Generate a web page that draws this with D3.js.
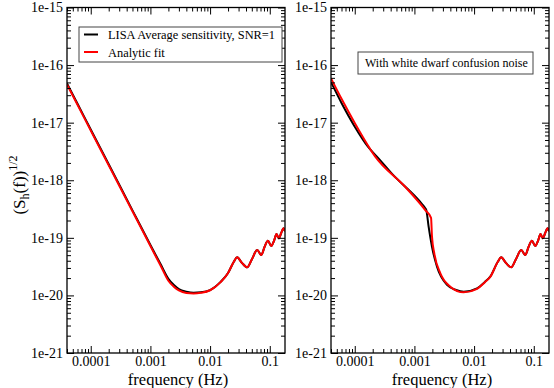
<!DOCTYPE html>
<html>
<head>
<meta charset="utf-8">
<script src="https://cdn.jsdelivr.net/npm/d3@7"></script>
<style>
body { margin: 0; background: #fff; }
text { font-family: "Liberation Serif", "Times New Roman", serif; fill: #000; }
</style>
</head>
<body>
<div id="chart"></div>
<script>
var svgWidth = 554;
var svgHeight = 388;

// ticks and labels
var xTickValues = [1e-4, 1e-3, 1e-2, 1e-1];
var xTickLabels = ['0.0001', '0.001', '0.01', '0.1'];
var yTickValues = [1e-21, 1e-20, 1e-19, 1e-18, 1e-17, 1e-16, 1e-15];
var yTickLabels = ['1e-21', '1e-20', '1e-19', '1e-18', '1e-17', '1e-16', '1e-15'];
var xDomain = [4e-5, 0.18];
var yDomain = [1e-21, 1e-15];
var legendLabels = ['LISA Average sensitivity, SNR=1', 'Analytic fit'];
var noteText = 'With white dwarf confusion noise';

// left panel: LISA sensitivity and analytic fit
var freqLisa = [4e-5, 6e-5, 1e-4, 2e-4, 5e-4, 1e-3, 1.5e-3, 2e-3, 2.5e-3, 3e-3, 4e-3, 5.3e-3, 7e-3, 1e-2, 1.5e-2, 2e-2, 2.5e-2,
    2.84e-2, 3.4e-2, 4.19e-2, 5e-2, 6.16e-2, 7.2e-2, 8.2e-2, 9.3e-2, 0.106, 0.118, 0.13, 0.142, 0.155, 0.169, 0.18];
var hLisa = [4.8e-17, 2.13e-17, 7.6e-18, 1.9e-18, 3.0e-19, 7.5e-20, 3.4e-20, 1.95e-20, 1.5e-20, 1.29e-20, 1.16e-20, 1.11e-20, 1.13e-20, 1.24e-20, 1.72e-20, 2.45e-20, 3.85e-20,
    4.58e-20, 3.7e-20, 3.07e-20, 4.2e-20, 6.14e-20, 5.03e-20, 7.0e-20, 8.9e-20, 7.2e-20, 8.9e-20, 1.16e-19, 9.8e-20, 1.2e-19, 1.46e-19, 1.3e-19];
var freqFit = [4e-5, 6e-5, 1e-4, 2e-4, 5e-4, 1e-3, 1.5e-3, 2e-3, 2.5e-3, 3e-3, 4e-3, 5.3e-3, 7e-3, 1e-2, 1.5e-2, 2e-2, 2.5e-2,
    2.84e-2, 3.4e-2, 4.19e-2, 5e-2, 6.16e-2, 7.2e-2, 8.2e-2, 9.3e-2, 0.106, 0.118, 0.13, 0.142, 0.155, 0.169, 0.18];
var hFit = [4.6e-17, 2.05e-17, 7.3e-18, 1.82e-18, 2.9e-19, 7.2e-20, 3.2e-20, 1.8e-20, 1.4e-20, 1.22e-20, 1.1e-20, 1.08e-20, 1.11e-20, 1.23e-20, 1.7e-20, 2.45e-20, 3.85e-20,
    4.58e-20, 3.7e-20, 3.07e-20, 4.2e-20, 6.14e-20, 5.03e-20, 7.0e-20, 8.9e-20, 7.2e-20, 8.9e-20, 1.16e-19, 9.8e-20, 1.2e-19, 1.46e-19, 1.3e-19];

// right panel: with white dwarf confusion noise
var freqLisaWd = [4e-5, 6e-5, 9.9e-5, 1.69e-4, 2.5e-4, 4.19e-4, 1.34e-3, 1.52e-3, 1.58e-3, 1.73e-3, 1.97e-3, 2.39e-3, 3.52e-3, 5e-3, 6.7e-3, 1.12e-2, 1.5e-2, 1.88e-2, 2.5e-2,
    2.84e-2, 3.4e-2, 4.19e-2, 5e-2, 6.16e-2, 7.2e-2, 8.2e-2, 9.3e-2, 0.106, 0.118, 0.13, 0.142, 0.155, 0.169, 0.18];
var hLisaWd = [5.07e-17, 2.2e-17, 8.7e-18, 3.75e-18, 2.4e-18, 1.3e-18, 3.86e-19, 3.25e-19, 3.04e-19, 1.56e-19, 7.0e-20, 3.15e-20, 1.52e-20, 1.24e-20, 1.16e-20, 1.33e-20, 1.7e-20, 2.15e-20, 3.85e-20,
    4.58e-20, 3.7e-20, 3.07e-20, 4.2e-20, 6.14e-20, 5.03e-20, 7.0e-20, 8.9e-20, 7.2e-20, 8.9e-20, 1.16e-19, 9.8e-20, 1.2e-19, 1.46e-19, 1.3e-19];
var freqFitWd = [4e-5, 6e-5, 1.01e-4, 2.19e-4, 7e-4, 1.52e-3, 1.9e-3, 1.97e-3, 2.15e-3, 2.72e-3, 4e-3, 6.7e-3, 1.12e-2, 1.5e-2, 1.88e-2, 2.5e-2,
    2.84e-2, 3.4e-2, 4.19e-2, 5e-2, 6.16e-2, 7.2e-2, 8.2e-2, 9.3e-2, 0.106, 0.118, 0.13, 0.142, 0.155, 0.169, 0.18];
var hFitWd = [5.9e-17, 2.6e-17, 9.7e-18, 2.6e-18, 7.7e-19, 3.04e-19, 2.23e-19, 1.05e-19, 5.4e-20, 2.42e-20, 1.42e-20, 1.13e-20, 1.3e-20, 1.68e-20, 2.12e-20, 3.85e-20,
    4.58e-20, 3.7e-20, 3.07e-20, 4.2e-20, 6.14e-20, 5.03e-20, 7.0e-20, 8.9e-20, 7.2e-20, 8.9e-20, 1.16e-19, 9.8e-20, 1.2e-19, 1.46e-19, 1.3e-19];

var plotTop = 7.5;
var plotBottom = 353;

var svg = d3.select('#chart').append('svg')
    .attr('width', svgWidth)
    .attr('height', svgHeight);

function pairs(fs, hs) {
    return fs.map(function(f, i) { return {f: f, h: hs[i]}; });
}

function drawPanel(id, left, right, black, red) {
    var x = d3.scaleLog().domain(xDomain).range([left, right]);
    var y = d3.scaleLog().domain(yDomain).range([plotBottom, plotTop]);
    var g = svg.append('g');

    g.append('clipPath').attr('id', 'clip' + id)
        .append('rect')
        .attr('x', left).attr('y', plotTop)
        .attr('width', right - left).attr('height', plotBottom - plotTop);

    var line = d3.line()
        .x(d => x(d.f))
        .y(d => y(d.h))
        .curve(d3.curveMonotoneX);

    var curves = g.append('g').attr('clip-path', 'url(#clip' + id + ')');
    curves.append('path').datum(black)
        .attr('d', line).attr('fill', 'none')
        .attr('stroke', '#000').attr('stroke-width', 2);
    curves.append('path').datum(red)
        .attr('d', line).attr('fill', 'none')
        .attr('stroke', '#ff0000').attr('stroke-width', 2);

    var xMinor = x.ticks().filter(v => xTickValues.indexOf(v) < 0);
    var yMinor = y.ticks().filter(v => yTickValues.indexOf(v) < 0);

    function axisGroup(axis, tx, ty, keepText) {
        var a = g.append('g')
            .attr('transform', 'translate(' + tx + ',' + ty + ')')
            .call(axis);
        a.select('.domain').remove();
        a.selectAll('line').attr('stroke-width', 1);
        if (!keepText) a.selectAll('text').remove();
        return a;
    }

    // bottom
    var xb = axisGroup(d3.axisBottom(x).tickValues(xTickValues).tickSize(-7).tickPadding(3)
        .tickFormat((d, i) => xTickLabels[i]), 0, plotBottom, true);
    xb.selectAll('text').attr('font-size', 14).style('font-family', '"Liberation Serif", serif');
    axisGroup(d3.axisBottom(x).tickValues(xMinor).tickSize(-4), 0, plotBottom);
    // top
    axisGroup(d3.axisTop(x).tickValues(xTickValues).tickSize(-7), 0, plotTop);
    axisGroup(d3.axisTop(x).tickValues(xMinor).tickSize(-4), 0, plotTop);
    // left
    var yl = axisGroup(d3.axisLeft(y).tickValues(yTickValues).tickSize(-7).tickPadding(4)
        .tickFormat((d, i) => yTickLabels[i]), left, 0, true);
    yl.selectAll('text').attr('font-size', 14).style('font-family', '"Liberation Serif", serif');
    axisGroup(d3.axisLeft(y).tickValues(yMinor).tickSize(-4), left, 0);
    // right
    axisGroup(d3.axisRight(y).tickValues(yTickValues).tickSize(-7), right, 0);
    axisGroup(d3.axisRight(y).tickValues(yMinor).tickSize(-4), right, 0);

    g.append('rect')
        .attr('x', left).attr('y', plotTop)
        .attr('width', right - left).attr('height', plotBottom - plotTop)
        .attr('fill', 'none').attr('stroke', '#000').attr('stroke-width', 1.3);

    g.append('text')
        .attr('x', (left + right) / 2 + 2)
        .attr('y', 385)
        .attr('text-anchor', 'middle')
        .attr('font-size', 16.5)
        .text('frequency (Hz)');

    return g;
}

var leftPanel = drawPanel('L', 67, 285, pairs(freqLisa, hLisa), pairs(freqFit, hFit));
var rightPanel = drawPanel('R', 331, 549, pairs(freqLisaWd, hLisaWd), pairs(freqFitWd, hFitWd));

// legend in left panel
var legend = svg.append('g');
legend.append('rect')
    .attr('x', 79).attr('y', 27)
    .attr('width', 203).attr('height', 35)
    .attr('fill', '#fff').attr('stroke', '#444').attr('stroke-width', 1);
var legendColors = ['#000', '#ff0000'];
legendLabels.forEach(function(label, i) {
    var ly = 34.5 + i * 17.5;
    legend.append('line')
        .attr('x1', 84).attr('x2', 98)
        .attr('y1', ly).attr('y2', ly)
        .attr('stroke', legendColors[i]).attr('stroke-width', 2);
    legend.append('text')
        .attr('x', 108).attr('y', ly + 4.8)
        .attr('font-size', 12.4)
        .text(label);
});

// note in right panel
svg.append('rect')
    .attr('x', 358).attr('y', 52)
    .attr('width', 175).attr('height', 22)
    .attr('fill', '#fff').attr('stroke', '#444').attr('stroke-width', 1);
svg.append('text')
    .attr('x', 365).attr('y', 67)
    .attr('font-size', 12)
    .text(noteText);

// y label
var yLabel = svg.append('text')
    .attr('transform', 'translate(25,185) rotate(-90)')
    .attr('text-anchor', 'middle')
    .attr('font-size', 17);
yLabel.append('tspan').text('(S');
yLabel.append('tspan').attr('font-size', 12).attr('dy', 4).text('h');
yLabel.append('tspan').attr('dy', -4).text('(f))');
yLabel.append('tspan').attr('font-size', 12).attr('dy', -8).text('1/2');
</script>
</body>
</html>
